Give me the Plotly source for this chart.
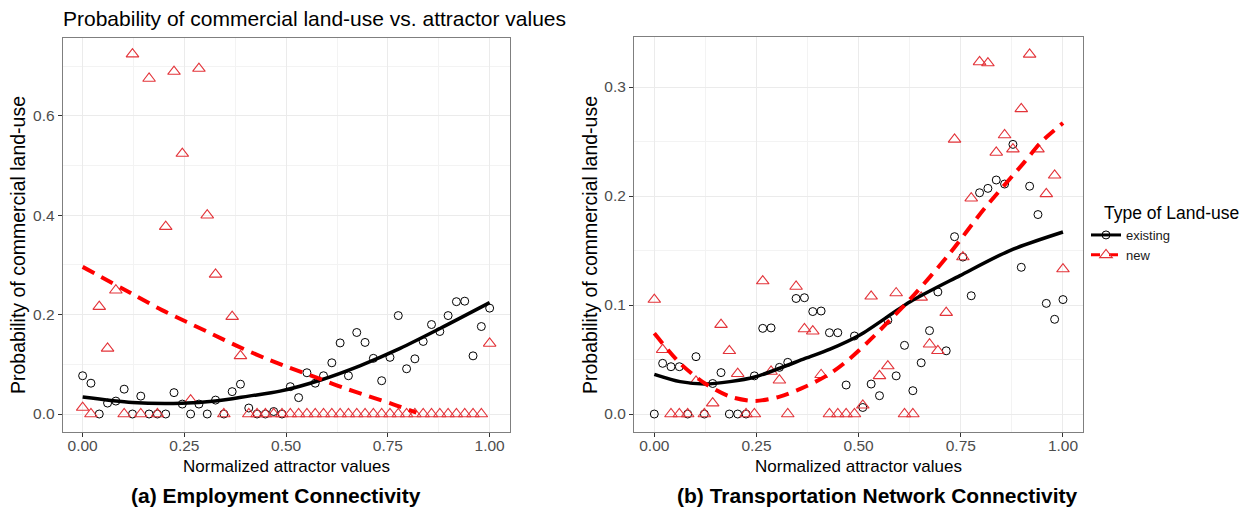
import numpy as np
import plotly.graph_objects as go

# ---------------- data ----------------
normalized_x = np.linspace(0, 1, 50)  # 50 attractor bins

# (a) Employment Connectivity
emp_existing = [0.077, 0.062, 0.0, 0.022, 0.026, 0.050, 0.0, 0.036, 0.0, 0.0,
                0.0, 0.043, 0.020, 0.0, 0.020, 0.0, 0.028, 0.0, 0.045, 0.060,
                0.012, 0.0, 0.0, 0.005, 0.0, 0.055, 0.033, 0.083, 0.062, 0.077,
                0.103, 0.143, 0.077, 0.164, 0.144, 0.112, 0.067, 0.114, 0.198, 0.091,
                0.111, 0.146, 0.180, 0.166, 0.198, 0.226, 0.227, 0.117, 0.176, 0.213]
emp_new = [0.013, 0.0, 0.216, 0.132, 0.249, 0.0, 0.724, 0.0, 0.675, 0.0,
           0.377, 0.689, 0.524, 0.028, 0.695, 0.400, 0.281, 0.0, 0.196, 0.117,
           0.0, 0.0, 0.0, 0.0, 0.0, 0.0, 0.0, 0.0, 0.0, 0.0,
           0.0, 0.0, 0.0, 0.0, 0.0, 0.0, 0.0, 0.0, 0.0, 0.0,
           0.0, 0.0, 0.0, 0.0, 0.0, 0.0, 0.0, 0.0, 0.0, 0.142]
emp_exist_fit_x = [0, 0.122, 0.244, 0.326, 0.408, 0.485, 0.583, 0.681, 0.78, 0.878, 1.0]
emp_exist_fit_y = [0.034, 0.023, 0.0215, 0.026, 0.036, 0.046, 0.068, 0.097, 0.132, 0.172, 0.224]
emp_new_fit_x = [0, 0.121, 0.195, 0.256, 0.318, 0.379, 0.449, 0.506, 0.575, 0.640, 0.702, 0.763, 0.82]
emp_new_fit_y = [0.296, 0.242, 0.209, 0.185, 0.161, 0.137, 0.112, 0.094, 0.073, 0.053, 0.036, 0.0195, 0.0026]

# (b) Transportation Network Connectivity
trans_existing = [0.0, 0.0465, 0.0434, 0.0434, 0.0, 0.0526, 0.0, 0.028, 0.038, 0.0,
                  0.0, 0.0, 0.035, 0.0786, 0.079, 0.0428, 0.0474, 0.106, 0.1067, 0.094,
                  0.0945, 0.0746, 0.0746, 0.0266, 0.0716, 0.006, 0.0275, 0.0168, 0.086, 0.035,
                  0.063, 0.0214, 0.047, 0.0765, 0.112, 0.058, 0.1627, 0.144, 0.1085, 0.203,
                  0.207, 0.2147, 0.211, 0.2474, 0.1346, 0.209, 0.183, 0.1015, 0.0869, 0.105]
trans_new = [0.105, 0.059, 0.0, 0.0, 0.0, 0.030, 0.0, 0.010, 0.082, 0.058,
             0.037, 0.0, 0.0, 0.122, 0.039, 0.031, 0.0, 0.117, 0.078, 0.076,
             0.036, 0.0, 0.0, 0.0, 0.0, 0.008, 0.108, 0.035, 0.044, 0.111,
             0.0, 0.0, 0.107, 0.064, 0.058, 0.093, 0.252, 0.144, 0.198, 0.323,
             0.322, 0.240, 0.256, 0.243, 0.280, 0.330, 0.243, 0.202, 0.219, 0.133]
trans_exist_fit_x = [0, 0.063, 0.124, 0.185, 0.246, 0.307, 0.369, 0.43, 0.503, 0.626, 0.748, 0.870, 1.0]
trans_exist_fit_y = [0.0364, 0.0297, 0.0275, 0.0297, 0.034, 0.042, 0.051, 0.0595, 0.0725, 0.103, 0.127, 0.150, 0.167]
trans_new_fit_x = [0, 0.063, 0.124, 0.185, 0.246, 0.307, 0.369, 0.43, 0.479, 0.528, 0.630, 0.720, 0.809, 0.903, 0.948, 1.0]
trans_new_fit_y = [0.074, 0.0465, 0.028, 0.016, 0.012, 0.016, 0.025, 0.037, 0.051, 0.068, 0.107, 0.146, 0.189, 0.230, 0.250, 0.267]

x_ticks = [0, 0.25, 0.5, 0.75, 1.0]
emp_y_ticks = [0, 0.2, 0.4, 0.6]
trans_y_ticks = [0, 0.1, 0.2, 0.3]

legend_labels = ["existing", "new"]
legend_title = "Type of Land-use"
main_title = "Probability of commercial land-use vs. attractor values"
x_title = "Normalized attractor values"
y_title = "Probability of commercial land-use"
captions = ["(a) Employment Connectivity", "(b) Transportation Network Connectivity"]

# ---------------- styles ----------------
W, H = 1250, 512
OFF = 8  # page body margin in the browser
FONT = "Liberation Sans, Arial, sans-serif"
BLACK = "#000000"
TRI_RED = "#e3343a"
LINE_RED = "#ff0000"
circle_marker = dict(symbol="circle-open", size=8, color=BLACK, line=dict(width=1))
tri_marker = dict(symbol="triangle-up-open", size=11, color=TRI_RED, line=dict(width=1.1))
solid_line = dict(color=BLACK, width=3.5, shape="spline", smoothing=0.8)
dash_line = dict(color=LINE_RED, width=4, dash="13px,8px", shape="spline", smoothing=0.8)

fig = go.Figure()

panels = [
    ("x", "y", emp_existing, emp_new, emp_exist_fit_x, emp_exist_fit_y, emp_new_fit_x, emp_new_fit_y),
    ("x2", "y2", trans_existing, trans_new, trans_exist_fit_x, trans_exist_fit_y, trans_new_fit_x, trans_new_fit_y),
]
for xa, ya, ex, nw, efx, efy, nfx, nfy in panels:
    fig.add_trace(go.Scatter(x=normalized_x, y=ex, mode="markers", marker=circle_marker,
                             xaxis=xa, yaxis=ya, showlegend=False))
    fig.add_trace(go.Scatter(x=normalized_x, y=nw, mode="markers", marker=tri_marker,
                             xaxis=xa, yaxis=ya, showlegend=False))
    fig.add_trace(go.Scatter(x=efx, y=efy, mode="lines", line=solid_line,
                             xaxis=xa, yaxis=ya, showlegend=False))
    fig.add_trace(go.Scatter(x=nfx, y=nfy, mode="lines", line=dash_line,
                             xaxis=xa, yaxis=ya, showlegend=False))

# legend-only entries
fig.add_trace(go.Scatter(x=[None], y=[None], mode="lines+markers", name=legend_labels[0],
                         line=dict(color=BLACK, width=3), marker=circle_marker))
fig.add_trace(go.Scatter(x=[None], y=[None], mode="lines+markers", name=legend_labels[1],
                         line=dict(color=LINE_RED, width=3, dash="dash"), marker=tri_marker))

def px_x(p):
    return (p - OFF) / W

def px_y(p):
    return (H - (p - OFF)) / H

axis_common = dict(
    showline=True, linecolor="#7f7f7f", linewidth=1, mirror=True,
    showgrid=True, gridcolor="#ebebeb", gridwidth=1,
    zeroline=False, ticks="outside", ticklen=4, tickcolor="#333333",
    tickfont=dict(family=FONT, size=15.5, color="#4d4d4d"),
)

fig.update_layout(
    width=W, height=H,
    margin=dict(l=0, r=0, t=0, b=0),
    paper_bgcolor="white", plot_bgcolor="white",
    font=dict(family=FONT),
    xaxis=dict(domain=[px_x(62.7), px_x(510)], range=[-0.049, 1.05], tickvals=x_ticks,
               tickformat=".2f", anchor="y", ticklabelstandoff=-5,
               minor=dict(dtick=0.125, tick0=0, showgrid=True, gridcolor="#f3f3f3", ticklen=0),
               **axis_common),
    yaxis=dict(domain=[px_y(432), px_y(38)], range=[-0.0362, 0.7565], tickvals=emp_y_ticks,
               tickformat=".1f", anchor="x",
               minor=dict(dtick=0.1, tick0=0, showgrid=True, gridcolor="#f3f3f3", ticklen=0),
               **axis_common),
    xaxis2=dict(domain=[px_x(634), px_x(1083)], range=[-0.0497, 1.049], tickvals=x_ticks,
                tickformat=".2f", anchor="y2", ticklabelstandoff=-5,
                minor=dict(dtick=0.125, tick0=0, showgrid=True, gridcolor="#f3f3f3", ticklen=0),
                **axis_common),
    yaxis2=dict(domain=[px_y(432), px_y(37)], range=[-0.0165, 0.3459], tickvals=trans_y_ticks,
                tickformat=".1f", anchor="x2",
                minor=dict(dtick=0.05, tick0=0, showgrid=True, gridcolor="#f3f3f3", ticklen=0),
                **axis_common),
    legend=dict(x=px_x(1086), y=px_y(220), xanchor="left", yanchor="top",
                font=dict(family=FONT, size=13, color="#1a1a1a"),
                bgcolor="rgba(0,0,0,0)", itemwidth=30, tracegroupgap=0),
)

ann = []
ann.append(dict(text=main_title, x=px_x(61), y=px_y(18), xref="paper", yref="paper",
                xanchor="left", yanchor="middle", showarrow=False,
                font=dict(family=FONT, size=21, color="#000000")))
ann.append(dict(text=legend_title, x=px_x(1102), y=px_y(213), xref="paper", yref="paper",
                xanchor="left", yanchor="middle", showarrow=False,
                font=dict(family=FONT, size=17.5, color="#000000")))
for cx, yx in [(286, 18), (858, 590)]:
    ann.append(dict(text=x_title, x=px_x(cx), y=px_y(466), xref="paper", yref="paper",
                    xanchor="center", yanchor="middle", showarrow=False,
                    font=dict(family=FONT, size=17, color="#000000")))
    ann.append(dict(text=y_title, x=px_x(yx), y=px_y(245), xref="paper", yref="paper",
                    xanchor="center", yanchor="middle", showarrow=False, textangle=-90,
                    font=dict(family=FONT, size=19.5, color="#000000")))
for cap, cx in zip(captions, [276, 878]):
    ann.append(dict(text="<b>" + cap + "</b>", x=px_x(cx), y=px_y(495), xref="paper", yref="paper",
                    xanchor="center", yanchor="middle", showarrow=False,
                    font=dict(family=FONT, size=21, color="#000000")))
fig.update_layout(annotations=ann)

fig.write_html("out.html")
